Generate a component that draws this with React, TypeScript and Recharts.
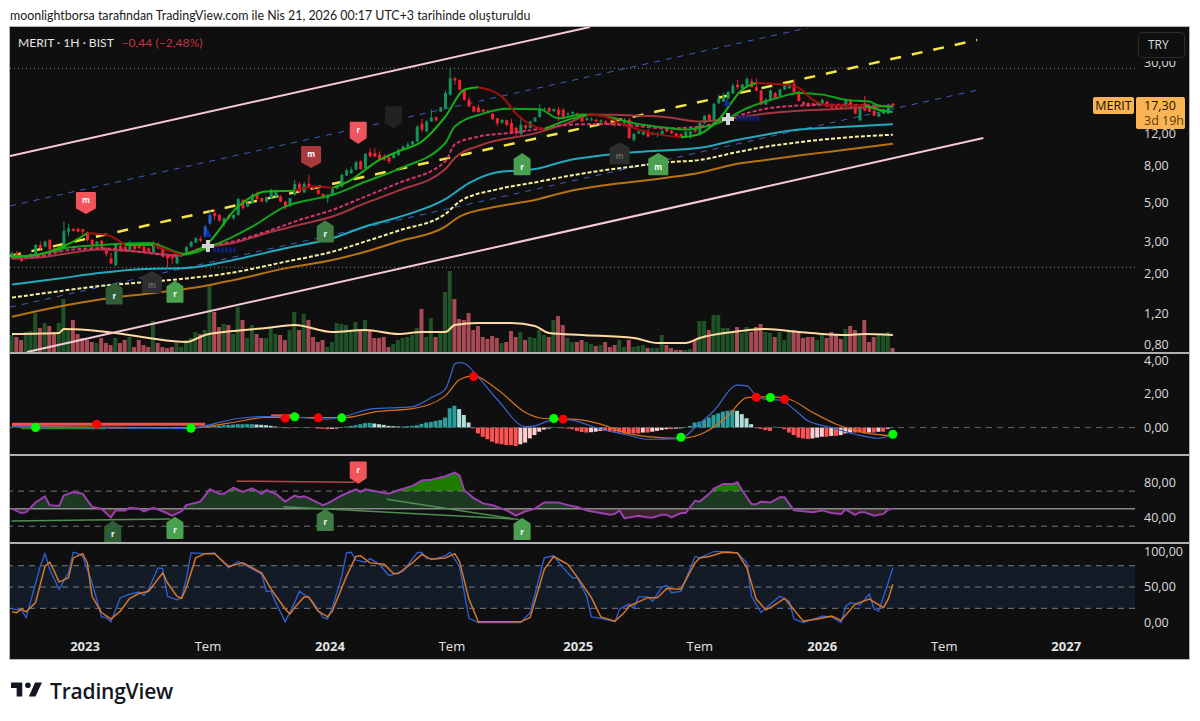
// App.tsx - MERIT weekly chart with volume, MACD, RSI and stochastic panes
import React from "react";
import {
  ComposedChart, Bar, Line, Area, Cell, XAxis, YAxis, ReferenceLine, ReferenceArea, ReferenceDot,
} from "recharts";

type Pt = number[];

const opens = [
  2.43,2.60,2.51,2.43,2.47,2.49,2.89,2.83,3.08,2.77,
  2.65,2.77,3.43,3.55,3.55,3.53,3.40,3.08,2.85,3.05,
  2.77,2.43,2.23,2.86,2.83,2.71,2.92,2.86,2.83,2.77,
  2.64,2.94,2.77,2.52,2.49,2.28,2.51,2.54,2.83,2.98,
  3.12,3.22,3.8,4.35,4.25,3.82,4.18,4.07,4.25,5.15,
  4.73,4.94,5.57,5.27,5.04,5.27,5.38,5.38,5.04,4.77,
  5.5,6.3,5.68,6.33,6.12,5.86,5.57,5.25,5.5,5.95,
  6.12,7.05,7.26,7.6,8.45,7.75,9.5,9.4,9.2,9.0,
  8.92,8.82,9.15,9.75,10.2,10.5,10.9,13.7,12.4,14.1,
  14.9,16,16.7,19.9,24.5,24,21.2,18.6,17.1,16.9,
  16.4,16.2,15.6,14.7,13.9,14.3,13.8,13,12,13.4,
  13,14.1,14.9,16.4,16.7,16.1,16.4,16.4,15.4,15.6,
  15.6,15,14.4,14.3,14.4,14,14.1,13.8,13.8,13.4,
  13.8,14.4,11.1,12.1,11.9,12.5,12,11.9,12,12.8,
  12.5,12.1,12,11.6,11.9,12.8,12,13.8,15.4,14.4,
  17.8,18.2,18.9,20.2,22.6,21.6,22.3,23.6,21.9,21,
  17.5,18.6,20.3,19.6,21.2,21.6,22.9,20.7,18.1,17.9,
  17.8,17.5,17.5,18.2,17.5,17.3,17.3,17,18.6,17.3,
  14.3,17.8,17,16.2,15,15.6,15.6,17.74,
];
const highs = [
  2.66,2.68,2.55,2.53,2.60,2.92,3.02,3.05,3.12,2.80,
  2.86,3.90,3.8,3.6,3.6,3.56,3.43,3.12,3.05,3.08,
  2.8,2.62,2.92,2.92,2.86,3.05,2.95,2.89,2.86,2.8,
  3.05,2.98,2.8,2.55,2.52,2.55,2.62,2.86,3.05,3.2,
  3.22,3.74,4.5,4.55,4.3,4.1,4.3,4.3,5.3,5.2,
  5.0,5.62,5.74,5.3,5.38,5.95,5.9,5.5,5.1,5.3,
  6.66,6.5,6.5,7.1,6.2,5.9,5.6,5.55,5.95,6.3,
  7.2,7.7,7.85,8.5,8.55,9.4,10,10,9.6,9.3,
  9.1,9.4,10,10.4,10.8,11,13.5,14.6,14.3,16.4,
  15,17,21,27.9,25,24.2,21.4,19.2,17.3,17.5,
  16.6,16.4,15.7,14.8,14.5,14.4,14.6,13.2,15,13.6,
  14.2,14.9,17.6,16.9,17,16.7,17,16.7,15.9,16.1,
  15.8,15.1,15,14.9,14.6,14.5,14.4,14.4,14,13.9,
  14.7,14.8,12.2,12.5,12.7,12.8,12.3,12.3,12.7,13.2,
  12.7,12.2,12.1,12.5,12.5,13.2,14,15.3,15.5,17.8,
  20,20.3,20.8,23,24.1,22.9,25,24.5,24.5,21.2,
  18.9,21.3,20.6,21.5,23,23.2,24.3,20.9,18.3,18,
  18,18.1,18.9,18.4,17.7,17.5,17.4,19,18.8,17.5,
  17.4,19.6,17.2,16.3,15.9,16.6,17.7,17.8,
];
const lows = [
  2.40,2.40,2.32,2.40,2.44,2.46,2.72,2.80,2.70,2.55,
  2.62,2.74,3.22,3.43,3.4,3.3,3.02,2.78,2.82,2.74,
  2.5,2.26,2.2,2.66,2.68,2.68,2.71,2.74,2.62,2.6,
  2.6,2.74,2.46,2.18,2.26,2.25,2.48,2.5,2.8,2.96,
  3.0,3.18,3.75,3.98,3.9,3.66,4.0,3.98,4.2,4.55,
  4.7,4.9,5.18,4.98,4.98,5.2,5.3,5.0,4.55,4.7,
  5.45,5.6,5.6,6.0,5.9,5.5,5.2,4.94,5.45,5.9,
  6.05,7.0,7.2,7.55,7.6,7.7,8.9,8.9,8.5,8.5,
  8.2,8.75,9.1,9.7,10.1,10.4,10.8,12.3,12.3,14,
  14.1,15.9,16.6,19.6,22.6,21,18.4,17,15.8,15.8,
  15.7,15.7,14.4,13.3,13.7,13.3,12,11.8,11.6,12.4,
  12.9,14,14.8,16.2,15.9,15.9,14.1,14.9,15.1,15.4,
  15.2,14,14.2,14.2,14,13.8,13.5,13.4,13.2,13.3,
  13.7,11.3,10.9,12,11.8,11.5,11.8,11.5,11.9,12.3,
  12,11.5,11.5,11.5,11.3,12.2,11.8,13.7,14.3,14.3,
  17.7,18.1,18.8,20,21.3,21.5,22.2,21.8,20.8,17.4,
  17.4,18.5,18.8,19.5,21.1,21.5,20.4,18.2,17.3,17,
  17.1,17.3,17.4,16.9,16.7,16.6,16.7,16.9,16.7,15.5,
  14.2,16.1,15.9,15.1,14.9,15.5,15.5,16.9,
];
const closes = [
  2.60,2.43,2.35,2.51,2.58,2.89,2.77,3.02,2.73,2.60,
  2.83,3.46,3.58,3.46,3.43,3.43,3.08,2.85,3.02,2.77,
  2.58,2.28,2.89,2.71,2.71,2.98,2.74,2.77,2.65,2.65,
  2.96,2.77,2.49,2.43,2.43,2.51,2.6,2.81,3.0,3.15,
  3.05,3.66,4.25,4.2,3.95,4.07,4.07,4.25,5.2,4.63,
  4.94,5.5,5.22,5.04,5.32,5.86,5.74,5.04,4.77,5.27,
  6.33,5.68,6.33,6.07,5.93,5.57,5.27,5.5,5.91,6.25,
  7.1,7.52,7.6,8.35,7.65,9.3,9.0,9.0,8.65,8.65,
  8.45,9.3,9.8,10.2,10.5,10.9,13.2,12.7,14.1,14.8,
  14.3,16.9,20.3,24.5,23.9,21.2,18.6,17.1,16,15.9,
  16,15.9,14.5,13.8,14.4,13.5,12.1,12.1,13.5,13,
  14.1,14.8,16.5,16.6,16,16.5,15.4,15,15.6,15.9,
  15.3,14.1,14.7,14.5,14.1,14.3,13.6,13.6,13.6,13.8,
  14.4,11.4,12,12.4,12.6,11.6,12.1,12.05,12.5,12.4,
  12.1,11.6,11.6,12.4,12.4,12.4,13.8,15.2,14.4,17.7,
  18.9,19.4,20.6,22.3,21.9,22.6,24.3,21.9,20.9,17.5,
  18.7,21,18.9,21.2,22.6,22.9,20.5,18.3,17.5,17.1,
  17.3,17.9,18.6,17,16.8,16.8,16.8,18.7,16.8,15.6,
  17.2,16.2,16,15.2,15.7,16.5,17.5,17.3,
];
const volumes = [
  17,15,12,20,21,39,24,29,26,20,
  29,53,22,32,18,14,12,10,9,14,
  9,7,14,9,12,15,5,12,7,5,
  31,9,5,4,5,9,5,12,14,20,
  18,22,67,40,25,28,27,18,45,32,
  14,27,18,14,14,24,18,17,12,22,
  40,22,38,32,15,10,12,5,10,29,
  28,27,22,30,22,32,22,14,14,15,
  5,8,12,14,15,17,24,43,15,34,
  15,20,60,81,53,33,32,39,22,26,
  15,13,16,14,9,10,21,15,20,12,
  15,14,22,17,15,32,36,27,14,10,
  10,12,10,8,6,7,10,5,7,12,
  5,12,5,6,7,4,4,4,17,7,
  4,2,2,2,3,12,31,31,22,37,
  37,24,24,20,25,19,25,20,25,28,
  20,19,15,20,12,20,22,19,14,15,
  15,12,17,14,20,18,13,23,26,22,
  17,32,10,15,17,17,20,4,
];
const volumeAvg: Pt[] = [[0,18],[10,19],[11,23],[16,22],[22,19],[29,14],[37,10],[41,17],[47,21],[54,24],[60,27],[68,20],[75,22],[82,18],[87,20],[92,20],[94,27],[99,29],[106,29],[111,26],[114,19],[121,17],[132,14],[137,9],[143,9],[146,14],[153,20],[160,23],[167,20],[172,18],[177,17],[181,18],[187,17]];

const fastUpSegments: Pt[][] = [
  [[0,2.49],[5,2.54],[9,2.71],[13,3.02],[16,3.36]],
  [[24,2.89],[30,2.89]],
  [[36,2.54],[41,2.86],[48,4.73],[54,5.74],[60,5.8]],
  [[68,6.0],[72,6.66],[75,7.6],[78,8.6],[82,9.6],[87,10.9],[92,15],[96,21.2],[99,21.9]],
  [[113,12.8],[118,14.4],[122,15.4]],
  [[142,11.5],[146,12],[150,14.4],[155,21.2],[158,23.1]],
  [[181,17.3],[184,16.4],[187,15.9]],
];
const fastDownSegments: Pt[][] = [
  [[16,3.36],[20,3.29],[24,2.89]],
  [[30,2.89],[36,2.54]],
  [[60,5.8],[65,6.12],[68,6.0]],
  [[99,21.9],[104,19.4],[107,15.6],[111,13.2],[113,12.8]],
  [[122,15.4],[125,15.2],[130,13.5],[136,12.1],[142,11.5]],
  [[158,23.1],[164,22.6],[167,21.7],[170,18.6],[174,17.3],[181,17.3]],
];
const slowGreen: Pt[] = [[0,2.49],[5,2.54],[12,2.8],[19,2.89],[29,2.96],[37,2.57],[43,2.89],[51,3.66],[58,4.73],[65,5.27],[68,5.5],[75,6.5],[82,7.65],[92,10.7],[94,13.2],[100,15.6],[105,16.6],[112,16.5],[116,14.7],[121,15.4],[125,15.2],[132,13.8],[139,13],[143,12.7],[146,13],[150,13.8],[156,16.7],[162,18.9],[167,20.3],[172,19.9],[177,18.6],[182,18.2],[184,17.3],[187,17]];
const crimsonDashed: Pt[] = [[0,2.46],[5,2.49],[12,2.71],[19,2.77],[27,2.65],[35,2.51],[41,2.83],[47,3.02],[54,3.43],[61,3.98],[68,4.53],[75,5.38],[82,6.39],[92,8.45],[94,10.5],[99,11.6],[106,12.2],[112,12.8],[118,13.5],[125,13.65],[132,13.35],[139,12.9],[146,13.2],[153,14.9],[160,16.6],[167,17.3],[174,17.5],[187,17.1]];
const maroon: Pt[] = [[0,2.42],[5,2.45],[19,2.73],[27,2.65],[35,2.54],[41,2.8],[47,2.96],[54,3.36],[61,3.74],[68,4.16],[75,4.94],[82,5.8],[92,7.65],[94,8.82],[100,10.5],[111,12.1],[118,13.8],[123,15.4],[132,15.2],[139,14.9],[146,14.1],[153,14.7],[160,15.6],[167,16.2],[174,16.5],[187,17.2]];
const tealMa: Pt[] = [[0,1.74],[10,1.88],[19,2.02],[28,2.12],[37,2.15],[47,2.38],[58,2.77],[68,3.15],[75,3.66],[82,4.12],[92,5.2],[97,6.39],[103,7.35],[111,7.65],[118,8.55],[125,9.1],[132,9.5],[139,9.75],[146,10.05],[153,11.0],[160,11.9],[167,12.7],[174,13.05],[187,13.6]];
const creamMa: Pt[] = [[0,1.47],[8,1.57],[19,1.71],[29,1.80],[37,1.88],[47,2.03],[58,2.33],[68,2.65],[75,3.02],[82,3.47],[92,4.3],[95,5.04],[103,5.9],[111,6.45],[118,7.0],[125,7.5],[132,7.92],[139,8.35],[146,8.6],[153,9.4],[160,10.2],[167,10.8],[174,11.3],[187,11.9]];
const brownMa: Pt[] = [[0,1.15],[8,1.28],[19,1.44],[29,1.55],[40,1.69],[47,1.84],[58,2.14],[68,2.38],[75,2.65],[82,3.02],[92,3.66],[95,4.16],[103,4.73],[111,5.15],[118,5.74],[125,6.17],[132,6.5],[139,6.85],[146,7.3],[153,8.1],[160,8.6],[167,9.1],[174,9.6],[187,10.6]];

const channelTop: Pt[] = [[-0.42,9.06],[122.7,47.4]];
const channelUpperMid: Pt[] = [[-0.42,4.77],[168.8,46.8]];
const channelMid: Pt[] = [[-0.42,2.51],[204.9,40.15]];
const channelLowerMid: Pt[] = [[-0.42,1.30],[205.9,21.4]];
const channelBottom: Pt[] = [[3.2,0.7315],[206.2,11.4]];
const priceLevels = [27.9, 2.17];

const priceFlags = [
  { i: 15.7, p: 4.36, label: "m", kind: "sell", down: true },
  { i: 63.5, p: 7.86, label: "m", kind: "sellDim", down: true },
  { i: 73.5, p: 10.74, label: "r", kind: "sell", down: true },
  { i: 81, p: 13.1, label: "", kind: "faint", down: true },
  { i: 21.7, p: 1.76, label: "r", kind: "buyDim", down: false },
  { i: 29.7, p: 2.04, label: "m", kind: "grey", down: false },
  { i: 34.6, p: 1.80, label: "r", kind: "buy", down: false },
  { i: 66.5, p: 3.9, label: "r", kind: "buyMid", down: false },
  { i: 108.3, p: 9.26, label: "r", kind: "buy", down: false },
  { i: 129, p: 10.66, label: "m", kind: "grey", down: false },
  { i: 137.2, p: 9.26, label: "m", kind: "buy", down: false },
];
const crosses: Pt[] = [[41.6,2.85],[152,14.56]];
const triangles: Pt[] = [[41.6,3.37],[151.8,18.1]];
const smudges: Pt[] = [[45.2,2.71],[156.3,14.7]];
const blueBars = [41, 42];

const macdHist = [
  .01,.02,.01,.02,.01,.01,.02,.01,.01,.02,.01,.01,.02,.01,.01,.02,.01,.01,.01,.01,.01,
  -.08,-.08,-.06,-.06,-.06,-.04,-.04,
  -.02,-.02,-.02,-.02,-.01,-.01,-.01,-.01,
  .02,.03,.04,.05,.05,
  .06,.08,.1,.12,.14,.16,.18,.2,.2,.2,.2,.18,.16,.14,.1,.06,.02,-.04,-.04,-.02,
  .02,.03,.02,-.02,-.06,-.08,-.1,-.08,-.06,.03,.06,.1,.14,.2,.26,.28,.24,.2,.16,.1,
  .08,.06,.06,.08,.1,.14,.22,.3,.34,.4,.45,.6,1.15,1.3,1.1,.75,.3,
  -.05,-.35,-.55,-.7,-.85,-.95,-1.0,-1.05,-1.05,-1.1,-1.0,-.9,-.65,-.45,-.25,-.12,-.06,.04,-.02,-.04,-.06,-.1,-.2,-.27,-.3,-.28,-.25,
  -.2,-.2,-.25,-.25,-.3,-.35,-.35,-.35,-.35,-.3,-.3,-.25,-.2,-.15,-.1,-.1,-.07,-.05,.04,.1,
  .3,.35,.45,.6,.75,.85,.95,1.0,1.05,1.0,.8,.55,.2,-.04,-.08,-.15,-.2,.05,.03,-.1,
  -.3,-.45,-.6,-.65,-.68,-.65,-.6,-.55,-.55,-.5,-.5,-.45,-.35,-.3,-.3,-.3,-.35,-.3,-.3,-.25,-.25,-.08,.02,
];
const macdLine: Pt[] = [[0,.06],[19,-.02],[38,-.06],[41,.1],[48,.54],[54,.66],[61,.6],[67,.5],[71,.7],[76,1.1],[85,1.25],[89,1.79],[92,2.29],[93,3.0],[94,3.8],[95,3.88],[96,3.84],[99,2.99],[103,1.69],[109,.06],[111,.1],[114,.4],[118,.46],[125,-.1],[130,-.4],[135,-.7],[142,-.66],[145,0],[149,1],[154,2.53],[156,2.49],[158,1.89],[161,1.65],[163,1.65],[166,1.09],[169,.4],[174,0],[179,-.4],[184,-.64],[187,-.4]];
const macdSignal: Pt[] = [[0,.1],[38,-.02],[46,.26],[54,.6],[62,.6],[71,.6],[77,.94],[85,1.13],[92,1.89],[95,2.85],[98,3.08],[103,2.29],[109,.9],[113,.54],[119,.5],[125,.2],[130,-.3],[135,-.54],[142,-.64],[147,-.3],[152,.7],[156,1.79],[161,1.83],[165,1.69],[170,.9],[175,.2],[181,-.3],[187,-.5]];
const macdCrossUp: Pt[] = [[5,0],[38,-.04],[60,.64],[70,.58],[115,.54],[142,-.58],[161,1.79],[187,-.4]];
const macdCrossDown: Pt[] = [[18,.2],[58,.56],[65,.58],[98,3.04],[117,.5],[158,1.81],[164,1.69]];
const macdSalmon: Pt[][] = [[[0,.2],[41,.2]],[[55,.7],[61,.7]]];
const macdGreenRun: Pt[] = [[2,-.04],[20,-.04]];

const rsiLine: Pt[] = [[0,50],[2,45],[3,46],[5,57],[7,64],[8,54],[10,53],[11,65],[13,69],[15,67],[17,52],[19,50],[21,40],[22,48],[24,48],[25,51],[27,50],[28,47],[30,51],[32,47],[34,42],[36,47],[37,54],[40,58],[42,72],[44,67],[45,67],[47,74],[49,69],[51,73],[53,67],[54,71],[56,67],[58,58],[60,65],[61,63],[62,64],[63,62],[66,54],[67,56],[70,65],[73,72],[74,69],[75,72],[78,69],[80,67],[82,71],[85,76],[87,82],[89,83],[92,87],[94,91],[95,88],[96,71],[98,62],[100,56],[102,54],[105,48],[107,42],[109,47],[111,50],[113,57],[116,57],[118,54],[120,52],[122,48],[125,45],[127,43],[128,44],[129,48],[130,39],[131,40],[133,42],[135,40],[136,40],[138,43],[139,43],[140,40],[142,45],[143,45],[145,59],[146,58],[148,67],[149,73],[151,78],[153,78],[154,80],[155,71],[157,55],[158,55],[159,58],[161,57],[163,63],[164,63],[166,48],[168,47],[170,46],[172,48],[174,45],[176,44],[177,49],[179,43],[180,46],[181,46],[183,42],[185,44],[186,49],[187,50]];
const rsiRedTrend: Pt[] = [[47.7,81.3],[72.7,80.2]];
const rsiGreenTrends: Pt[][] = [[[-0.1,36],[33.6,38.3]],[[57.6,52.3],[106.4,38.3]],[[79.6,60.6],[107.6,37.5]]];
const rsiFlags = [
  { i: 73.5, p: 79.7, label: "r", kind: "sell", down: true },
  { i: 21.4, p: 35.1, label: "r", kind: "buyDim", down: false },
  { i: 34.6, p: 39.4, label: "r", kind: "buy", down: false },
  { i: 66.5, p: 48.5, label: "r", kind: "buyMid", down: false },
  { i: 108.3, p: 38.2, label: "r", kind: "buy", down: false },
];

const stochK: Pt[] = [[0,19],[2,18],[3,7],[6,79],[7,97],[8,75],[10,47],[12,70],[13,99],[14,97],[15,93],[17,56],[19,8],[20,7],[21,1],[23,35],[25,40],[27,43],[28,38],[29,47],[31,77],[32,76],[33,37],[35,32],[36,35],[37,61],[38,98],[41,97],[43,98],[46,77],[48,86],[50,79],[53,68],[54,44],[55,44],[56,28],[58,1],[60,28],[61,44],[63,35],[64,28],[66,7],[67,5],[68,21],[70,65],[71,98],[72,99],[73,88],[75,85],[76,90],[78,82],[80,66],[83,72],[86,98],[87,99],[88,90],[90,90],[92,94],[93,99],[95,79],[97,6],[99,0],[108,0],[110,14],[113,91],[115,94],[117,77],[119,63],[120,63],[122,37],[123,8],[125,6],[128,1],[129,19],[131,26],[132,20],[133,36],[135,36],[136,30],[138,50],[139,52],[140,42],[142,44],[145,93],[146,91],[149,100],[152,100],[154,98],[156,84],[157,37],[159,14],[161,26],[163,37],[165,30],[166,5],[168,0],[172,9],[174,8],[176,0],[177,23],[178,28],[180,25],[182,40],[183,19],[184,16],[186,56],[187,77]];
const stochD: Pt[] = [[0,15],[1,14],[2,19],[3,15],[5,28],[7,79],[8,85],[9,72],[10,57],[12,63],[13,91],[15,97],[16,84],[17,37],[19,14],[21,5],[23,16],[25,34],[27,41],[29,44],[32,70],[33,56],[35,37],[36,34],[37,49],[39,91],[41,97],[43,97],[46,79],[49,84],[53,70],[55,47],[58,19],[59,12],[60,21],[62,36],[63,36],[65,16],[67,8],[68,16],[71,65],[73,93],[74,94],[76,84],[79,82],[81,69],[82,69],[85,84],[87,96],[89,89],[92,91],[94,97],[95,86],[97,33],[99,1],[108,1],[110,7],[113,75],[115,93],[118,82],[120,64],[123,35],[125,8],[128,2],[130,14],[131,23],[133,29],[135,35],[137,35],[139,48],[142,47],[145,84],[146,91],[148,93],[151,99],[154,98],[156,77],[158,33],[160,18],[161,21],[164,34],[165,26],[168,2],[171,5],[174,9],[176,3],[179,26],[182,33],[185,21],[186,33],[187,54]];

const timeTicks = [15.5, 41.6, 67.5, 93.4, 120.2, 146, 172, 197.9, 223.8];
const timeLabels = ["2023", "Tem", "2024", "Tem", "2025", "Tem", "2026", "Tem", "2027"];
const priceTicks = [0.8, 1.2, 2, 3, 5, 8, 12, 30];

const candleRows = opens.map((o, i) => ({ i, o, h: highs[i], l: lows[i], c: closes[i], range: [lows[i], highs[i]] }));
const volumeRows = volumes.map((v, i) => ({ i, v, up: closes[i] >= opens[i] }));
const histRows = macdHist.map((v, i) => ({ i, v }));
const rows = (pts: Pt[]) => pts.map(([i, v]) => ({ i, v }));

const W = 1179;
const BG = "#0f0f0f";
const TICK = { fill: "#dcdcdc", fontSize: 12.5, fontFamily: "'Open Sans', sans-serif" };
const X_DOMAIN = [-0.42, 238.4];
const MARGIN = { top: 0, right: 0, bottom: 0, left: 0 };
const FLAG_FILL: Record<string, string> = {
  sell: "#f2545b", sellDim: "#a83a3e", grey: "#2e2e2e", faint: "#222222", buyDim: "#2f5e36", buyMid: "#3f7d45", buy: "#4aa04f",
};
const comma = (v: number) => v.toFixed(2).replace(".", ",");

const xAxis = <XAxis hide type="number" dataKey="i" domain={X_DOMAIN} allowDataOverflow />;

function CandleShape(props: any) {
  const { x, y, width, height, payload } = props;
  const { o, h, l, c, i } = payload;
  const span = Math.log(h) - Math.log(l) || 1;
  const at = (p: number) => y + (height * (Math.log(h) - Math.log(p))) / span;
  const top = at(Math.max(o, c));
  const bot = at(Math.min(o, c));
  const color = blueBars.includes(i) ? "#1f5fd0" : c >= o ? "#14925c" : "#f2222e";
  return (
    <g>
      <line x1={x + width / 2} x2={x + width / 2} y1={y} y2={y + height} stroke={color} strokeWidth={1} />
      <rect x={x} y={top} width={width} height={Math.max(bot - top, 1)} fill={color} />
    </g>
  );
}

function flagShape(label: string, kind: string, down: boolean) {
  return (props: any) => {
    const { cx, cy } = props;
    const hw = label === "m" ? 9 : 7.5;
    const tip = 5;
    const body = 15;
    const d = down
      ? `M${cx} ${cy}L${cx - hw} ${cy - tip}V${cy - tip - body}H${cx + hw}V${cy - tip}Z`
      : `M${cx} ${cy}L${cx - hw} ${cy + tip}V${cy + tip + body}H${cx + hw}V${cy + tip}Z`;
    const textY = down ? cy - tip - body / 2 + 3 : cy + tip + body / 2 + 3;
    return (
      <g>
        <path d={d} fill={FLAG_FILL[kind]} stroke={FLAG_FILL[kind]} strokeLinejoin="round" strokeWidth={2} />
        <text x={cx} y={textY} textAnchor="middle" fontSize={8} fontWeight={700} fontFamily="'Open Sans', sans-serif" fill={kind === "grey" ? "#666" : "#fff"}>{label}</text>
      </g>
    );
  };
}

function plusShape(props: any) {
  const { cx, cy } = props;
  return <path d={`M${cx - 6} ${cy}H${cx + 6}M${cx} ${cy - 6}V${cy + 6}`} stroke="#d4d4d4" strokeWidth={4} />;
}

function triangleShape(props: any) {
  const { cx, cy } = props;
  return <path d={`M${cx} ${cy - 4}L${cx + 3.5} ${cy + 4}H${cx - 3.5}Z`} fill="#0d2b9e" />;
}

function smudgeShape(props: any) {
  const { cx, cy } = props;
  return <path d={`M${cx - 12} ${cy}H${cx + 12}`} stroke="#0d1f6e" strokeWidth={5} strokeDasharray="3 1" />;
}

function TimeTick(props: any) {
  const { x, y, index } = props;
  const label = timeLabels[index];
  const bold = label !== "Tem";
  return (
    <text x={x} y={y + 21} textAnchor="middle" fontSize={13} fontWeight={bold ? 700 : 400} fontFamily="'Open Sans', sans-serif" fill="#e4e4e4">{label}</text>
  );
}

function trace(key: string, pts: Pt[], stroke: string, width: number, dash?: string, type: any = "monotone") {
  return (
    <Line key={key} data={rows(pts)} dataKey="v" type={type} stroke={stroke} strokeWidth={width} strokeDasharray={dash} dot={false} activeDot={false} isAnimationActive={false} />
  );
}

function histColor(rowsIn: { v: number }[], idx: number) {
  const cur = rowsIn[idx].v;
  const prev = idx > 0 ? rowsIn[idx - 1].v : 0;
  if (cur >= 0) return cur >= prev ? "#2a9d9d" : "#b2dfdb";
  return cur <= prev ? "#ff5252" : "#ffcdd2";
}

const rsiMax = Math.max(...rsiLine.map((p) => p[1]));
const rsiMin = Math.min(...rsiLine.map((p) => p[1]));
const rsiStop = (level: number) => (rsiMax - level) / (rsiMax - rsiMin);

const layer = (top: number): React.CSSProperties => ({ position: "absolute", left: 10, top });
const UI_FONT = "Lato, 'Open Sans', sans-serif";

export default function App() {
  return (
    <div style={{ position: "absolute", left: 0, top: 0, width: 1200, height: 721, background: "#fff", overflow: "hidden", fontFamily: "'Open Sans', sans-serif" }}>
      <div style={{ position: "absolute", left: 10, top: 6, fontFamily: UI_FONT, fontSize: 12.4, lineHeight: "20px", color: "#1a1a1a", whiteSpace: "nowrap" }}>
        moonlightborsa tarafından TradingView.com ile Nis 21, 2026 00:17 UTC+3 tarihinde oluşturuldu
      </div>
      <div style={{ position: "absolute", left: 10, top: 27, width: 1179, height: 632, background: BG, outline: "1px solid #b4b4b4" }} />

      {/* volume underlay */}
      <div style={layer(27)}>
        <ComposedChart width={W} height={325} data={volumeRows} margin={MARGIN}>
          {xAxis}
          <YAxis orientation="right" width={54} domain={[0, 325]} tick={false} axisLine={false} tickLine={false} />
          <Bar dataKey="v" barSize={4} isAnimationActive={false}>
            {volumeRows.map((r) => <Cell key={r.i} fill={r.up ? "#1f5227" : "#a84a55"} />)}
          </Bar>
          {trace("volAvg", volumeAvg, "#ffd9a0", 2)}
        </ComposedChart>
      </div>

      {/* channel and levels, with the price axis */}
      <div style={layer(27)}>
        <ComposedChart width={W} height={325} data={rows(channelTop)} margin={MARGIN}>
          {xAxis}
          <YAxis orientation="right" width={54} scale="log" domain={[0.7315, 47.4]} allowDataOverflow ticks={priceTicks} interval={0} tick={TICK} tickFormatter={comma} tickSize={9} tickMargin={0} axisLine={false} tickLine={false} />
          {priceLevels.map((p) => <ReferenceLine key={p} y={p} stroke="#8a8a8a" strokeDasharray="1 3" />)}
          {trace("top", channelTop, "#f6c9d8", 2, undefined, "linear")}
          {trace("bottom", channelBottom, "#f6c9d8", 2, undefined, "linear")}
          {trace("upMid", channelUpperMid, "#3a5fc0", 1, "6 6", "linear")}
          {trace("lowMid", channelLowerMid, "#3a5fc0", 1, "6 6", "linear")}
          {trace("mid", channelMid, "#f5e642", 2.5, "11 11", "linear")}
        </ComposedChart>
      </div>

      {/* candles and moving averages */}
      <div style={layer(27)}>
        <ComposedChart width={W} height={325} data={candleRows} margin={MARGIN}>
          {xAxis}
          <YAxis orientation="right" width={54} scale="log" domain={[0.7315, 47.4]} allowDataOverflow tick={false} axisLine={false} tickLine={false} />
          {trace("brown", brownMa, "#b8720f", 2)}
          {trace("teal", tealMa, "#22a9c0", 2)}
          {trace("cream", creamMa, "#f5f0a0", 2, "4 2")}
          {trace("maroon", maroon, "#a5363f", 2)}
          {trace("crimson", crimsonDashed, "#d6336c", 2, "4 2")}
          <Bar dataKey="range" barSize={3} shape={CandleShape} isAnimationActive={false} />
          {trace("slow", slowGreen, "#12a51c", 2)}
          {fastUpSegments.map((s, n) => trace(`up${n}`, s, "#18b512", 2))}
          {fastDownSegments.map((s, n) => trace(`dn${n}`, s, "#a30f0f", 2))}
          {priceFlags.map((f, n) => (
            <ReferenceDot key={n} x={f.i} y={f.p} r={1} ifOverflow="visible" shape={flagShape(f.label, f.kind, f.down)} />
          ))}
          {triangles.map(([i, p]) => <ReferenceDot key={i} x={i} y={p} r={1} shape={triangleShape} />)}
          {smudges.map(([i, p]) => <ReferenceDot key={i} x={i} y={p} r={1} shape={smudgeShape} />)}
          {crosses.map(([i, p]) => <ReferenceDot key={i} x={i} y={p} r={1} shape={plusShape} />)}
        </ComposedChart>
      </div>

      {/* MACD */}
      <div style={layer(354)}>
        <ComposedChart width={W} height={100} data={histRows} margin={MARGIN}>
          {xAxis}
          <YAxis orientation="right" width={54} domain={[-1.58, 4.39]} allowDataOverflow ticks={[0, 2, 4]} interval={0} tick={TICK} tickFormatter={comma} tickSize={9} tickMargin={0} axisLine={false} tickLine={false} />
          <ReferenceLine y={0} stroke="#666" strokeDasharray="6 5" />
          <Bar dataKey="v" barSize={4} isAnimationActive={false}>
            {histRows.map((r, idx) => <Cell key={r.i} fill={histColor(histRows, idx)} />)}
          </Bar>
          {macdSalmon.map((s, n) => trace(`salmon${n}`, s, "#f05050", 3, undefined, "linear"))}
          {trace("macdGreen", macdGreenRun, "#2e8b2e", 2, undefined, "linear")}
          {trace("signal", macdSignal, "#d8701a", 1.2)}
          {trace("macd", macdLine, "#3a66d0", 1.2)}
          {macdCrossUp.map(([i, v]) => <ReferenceDot key={i} x={i} y={v} r={4.5} fill="#00ff00" stroke="none" ifOverflow="visible" />)}
          {macdCrossDown.map(([i, v]) => <ReferenceDot key={i} x={i} y={v} r={4.5} fill="#ff0000" stroke="none" ifOverflow="visible" />)}
        </ComposedChart>
      </div>

      {/* RSI */}
      <div style={layer(456)}>
        <ComposedChart width={W} height={86} data={rows(rsiLine)} margin={MARGIN}>
          <defs>
            <linearGradient id="rsiFill" x1="0" y1="0" x2="0" y2="1">
              <stop offset={rsiStop(70)} stopColor="#1f7a00" />
              <stop offset={rsiStop(70)} stopColor="#1c3a22" />
              <stop offset={rsiStop(50)} stopColor="#1c3a22" />
              <stop offset={rsiStop(50)} stopColor="#3a2326" />
            </linearGradient>
          </defs>
          {xAxis}
          <YAxis orientation="right" width={54} domain={[12, 110]} allowDataOverflow ticks={[40, 80]} interval={0} tick={TICK} tickFormatter={comma} tickSize={9} tickMargin={0} axisLine={false} tickLine={false} />
          <ReferenceLine y={70} stroke="#777" strokeDasharray="6 5" />
          <ReferenceLine y={30} stroke="#777" strokeDasharray="6 5" />
          <Area dataKey="v" type="linear" baseValue={50} stroke="none" fill="url(#rsiFill)" fillOpacity={1} dot={false} activeDot={false} isAnimationActive={false} />
          <ReferenceLine y={50} stroke="#8a8a8a" strokeWidth={1.5} />
          {trace("rsiRed", rsiRedTrend, "#b04a4a", 1.5, undefined, "linear")}
          {rsiGreenTrends.map((s, n) => trace(`rsiG${n}`, s, "#4f8f50", 1.5, undefined, "linear"))}
          {trace("rsi", rsiLine, "#9c3fb0", 2, undefined, "linear")}
          {rsiFlags.map((f, n) => (
            <ReferenceDot key={n} x={f.i} y={f.p} r={1} ifOverflow="visible" shape={flagShape(f.label, f.kind, f.down)} />
          ))}
        </ComposedChart>
      </div>

      {/* stochastic + time axis */}
      <div style={layer(544)}>
        <ComposedChart width={W} height={114} data={rows(stochK)} margin={MARGIN}>
          <XAxis type="number" dataKey="i" domain={X_DOMAIN} allowDataOverflow ticks={timeTicks} interval={0} height={30} axisLine={false} tickLine={false} tickSize={0} tick={TimeTick} />
          <YAxis orientation="right" width={54} domain={[-7.7, 110.6]} allowDataOverflow ticks={[0, 50, 100]} interval={0} tick={TICK} tickFormatter={comma} tickSize={9} tickMargin={0} axisLine={false} tickLine={false} />
          <ReferenceArea y1={20} y2={80} fill="#131c26" fillOpacity={1} stroke="none" />
          <ReferenceLine y={80} stroke="#787b86" strokeDasharray="6 5" />
          <ReferenceLine y={50} stroke="#787b86" strokeDasharray="6 5" />
          <ReferenceLine y={20} stroke="#787b86" strokeDasharray="6 5" />
          {trace("k", stochK, "#2f62d8", 1.3, undefined, "linear")}
          {trace("d", stochD, "#d8762a", 1.5, undefined, "linear")}
        </ComposedChart>
      </div>

      {/* pane separators */}
      {[353, 455, 543].map((t) => (
        <div key={t} style={{ position: "absolute", left: 10, top: t - 1, width: 1179, height: 2, background: "#b0b0b0" }} />
      ))}

      {/* legend + price tags */}
      <div style={{ position: "absolute", left: 18, top: 34, fontFamily: UI_FONT, fontSize: 12.1, lineHeight: "18px", color: "#e6e6e6", whiteSpace: "nowrap" }}>
        MERIT · 1H · BIST <span style={{ color: "#c0353f", marginLeft: 5 }}>−0,44 (−2,48%)</span>
      </div>
      <div style={{ position: "absolute", left: 1136, top: 58, width: 53, height: 3, background: BG }} />
      <div style={{ position: "absolute", left: 1138, top: 32, width: 47, height: 26, boxSizing: "border-box", border: "1px solid #2c2c2c", borderRadius: 4, background: BG, color: "#dcdcdc", fontSize: 12, lineHeight: "24px", paddingLeft: 9 }}>TRY</div>
      <div style={{ position: "absolute", left: 1093, top: 97, width: 41, height: 17, background: "#fbb454", borderRadius: 2, color: "#1a1206", fontSize: 12.5, lineHeight: "17px", textAlign: "center" }}>MERIT</div>
      <div style={{ position: "absolute", left: 1136, top: 97, width: 49, height: 32, background: "#fbb454", borderRadius: 2, color: "#1a1206", fontSize: 12.5, lineHeight: "15px", paddingLeft: 8, boxSizing: "border-box", paddingTop: 1 }}>
        17,30<br /><span style={{ color: "#5c3d0a" }}>3d 19h</span>
      </div>

      {/* footer logo */}
      <svg style={{ position: "absolute", left: 11, top: 682 }} width={31} height={15} viewBox="2 6 33 15">
        <path d="M14 6H2v6h6v9h6V6zm14 15h-7l6.6-15H35l-7 15z" fill="#131722" />
        <circle cx="20" cy="9" r="3" fill="#131722" />
      </svg>
      <div style={{ position: "absolute", left: 50, top: 677, fontSize: 21, lineHeight: "28px", fontWeight: 600, color: "#131722", letterSpacing: -0.2 }}>TradingView</div>
    </div>
  );
}
